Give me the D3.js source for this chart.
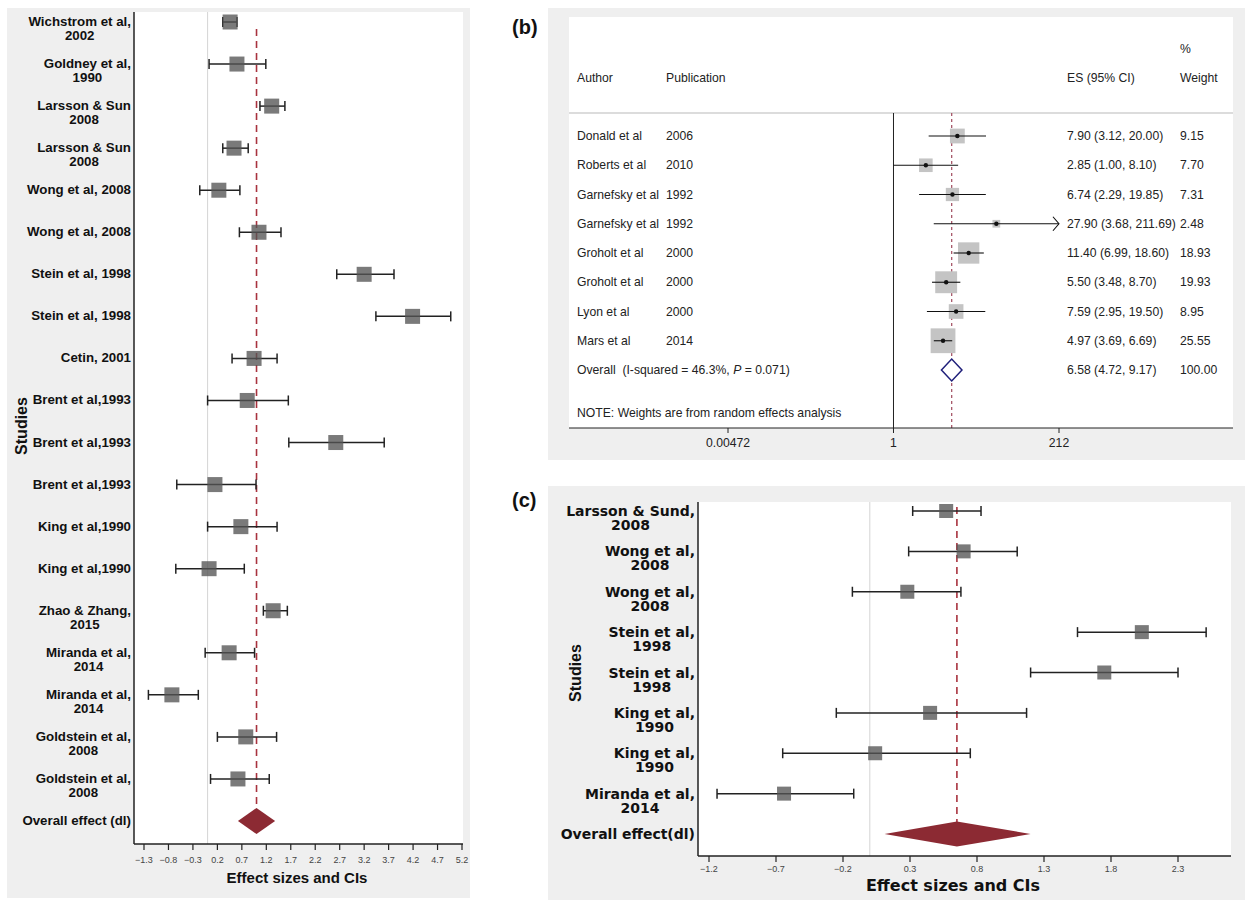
<!DOCTYPE html>
<html><head><meta charset="utf-8">
<script src="https://cdn.jsdelivr.net/npm/d3@7"></script>
<style>body{margin:0;background:#fff}svg{display:block}</style>
</head><body>
<svg id="chart" width="1245" height="900"></svg>
<script>
// ---------- Panel (a) data ----------
const studiesA = ["Wichstrom et al,\n2002","Goldney et al,\n1990","Larsson & Sun\n2008","Larsson & Sun\n2008","Wong et al, 2008","Wong et al, 2008","Stein et al, 1998","Stein et al, 1998","Cetin, 2001","Brent et al,1993","Brent et al,1993","Brent et al,1993","King et al,1990","King et al,1990","Zhao & Zhang,\n2015","Miranda et al,\n2014","Miranda et al,\n2014","Goldstein et al,\n2008","Goldstein et al,\n2008"];
const esA   = [0.46, 0.60, 1.31, 0.54, 0.23, 1.05, 3.20, 4.19, 0.95, 0.81, 2.62, 0.15, 0.68, 0.03, 1.34, 0.44, -0.73, 0.78, 0.62];
const lowA  = [0.31, 0.03, 1.07, 0.31, -0.16, 0.65, 2.64, 3.44, 0.50, 0.00, 1.66, -0.63, 0.00, -0.65, 1.14, -0.05, -1.21, 0.20, 0.06];
const highA = [0.60, 1.19, 1.58, 0.83, 0.66, 1.50, 3.81, 4.97, 1.42, 1.65, 3.61, 0.99, 1.42, 0.75, 1.63, 0.96, -0.19, 1.41, 1.26];
const overallLabelA = "Overall effect (dl)";
const overallA = [1.00, 0.62, 1.38];   // es, low, high
const ticksA = [-1.3,-0.8,-0.3,0.2,0.7,1.2,1.7,2.2,2.7,3.2,3.7,4.2,4.7,5.2];

// ---------- Panel (b) data ----------
const authorsB = ["Donald et al","Roberts et al","Garnefsky et al","Garnefsky et al","Groholt et al","Groholt et al","Lyon et al","Mars et al"];
const yearsB   = ["2006","2010","1992","1992","2000","2000","2000","2014"];
const esB      = [7.90, 2.85, 6.74, 27.90, 11.40, 5.50, 7.59, 4.97];
const lowB     = [3.12, 1.00, 2.29, 3.68, 6.99, 3.48, 2.95, 3.69];
const highB    = [20.00, 8.10, 19.85, 211.69, 18.60, 8.70, 19.50, 6.69];
const weightB  = [9.15, 7.70, 7.31, 2.48, 18.93, 19.93, 8.95, 25.55];
const overallB = [6.58, 4.72, 9.17, 100.00];  // es, low, high, weight
const ticksB   = [0.00472, 1, 212];

// ---------- Panel (c) data ----------
const studiesC = ["Larsson & Sund,\n2008","Wong et al,\n2008","Wong et al,\n2008","Stein et al,\n1998","Stein et al,\n1998","King et al,\n1990","King et al,\n1990","Miranda et al,\n2014"];
const esC   = [0.57, 0.70, 0.28, 2.03, 1.75, 0.45, 0.04, -0.64];
const lowC  = [0.32, 0.29, -0.13, 1.55, 1.20, -0.25, -0.65, -1.14];
const highC = [0.83, 1.10, 0.68, 2.51, 2.30, 1.17, 0.75, -0.12];
const overallLabelC = "Overall effect(dl)";
const overallC = [0.65, 0.11, 1.20];
const ticksC = [-1.2,-0.7,-0.2,0.3,0.8,1.3,1.8,2.3];

const svg = d3.select("#chart");
const SANS = "'Liberation Sans', Arial, Helvetica, sans-serif";
const DEJA = "'DejaVu Sans', sans-serif";
const fmtMinus = d => (d < 0 ? "\u2212" + Math.abs(d) : String(d));

function forest(cfg) {
  const g = svg.append("g");
  g.append("rect").attr("x", cfg.bg[0]).attr("y", cfg.bg[1]).attr("width", cfg.bg[2]).attr("height", cfg.bg[3]).attr("fill", "#efefef");
  const [L, T, R, B] = cfg.plot;
  g.append("rect").attr("x", L).attr("y", T).attr("width", R - L).attr("height", B - T).attr("fill", "#fff");
  const x = d3.scaleLinear().domain([cfg.ticks[0], cfg.ticks[cfg.ticks.length - 1]]).range(cfg.tickPx);
  const n = cfg.labels.length + 1;
  const y = d3.scalePoint().domain(d3.range(n)).range(cfg.rowPx);
  g.append("line").attr("x1", x(0)).attr("x2", x(0)).attr("y1", T).attr("y2", B).attr("stroke", "#d4d4d4").attr("stroke-width", 1);
  g.append("line").attr("x1", x(cfg.overall[0])).attr("x2", x(cfg.overall[0]))
    .attr("y1", cfg.dashTop).attr("y2", y(n - 1)).attr("stroke", "#a8323e").attr("stroke-width", 1.6).attr("stroke-dasharray", "7,5");
  const rows = d3.range(n - 1);
  const cap = cfg.cap;
  rows.forEach(i => {
    const yy = y(i);
    g.append("line").attr("x1", x(cfg.low[i])).attr("x2", x(cfg.high[i])).attr("y1", yy).attr("y2", yy).attr("stroke", "#222").attr("stroke-width", 1.5);
    [cfg.low[i], cfg.high[i]].forEach(v => g.append("line").attr("x1", x(v)).attr("x2", x(v)).attr("y1", yy - cap).attr("y2", yy + cap).attr("stroke", "#222").attr("stroke-width", 1.5));
    g.append("rect").attr("x", x(cfg.es[i]) - cfg.sq / 2).attr("y", yy - cfg.sq / 2).attr("width", cfg.sq).attr("height", cfg.sq)
      .attr("fill", "#555").attr("fill-opacity", 0.78);
  });
  const yo = y(n - 1), dh = cfg.dh, o = cfg.overall;
  g.append("path").attr("d", `M${x(o[1])},${yo}L${x(o[0])},${yo - dh}L${x(o[2])},${yo}L${x(o[0])},${yo + dh}Z`).attr("fill", "#8c2a33");
  g.append("line").attr("x1", L).attr("x2", L).attr("y1", T).attr("y2", B).attr("stroke", "#222").attr("stroke-width", 1.5);
  g.append("line").attr("x1", L).attr("x2", R).attr("y1", B).attr("y2", B).attr("stroke", "#222").attr("stroke-width", 1.5);
  cfg.ticks.forEach(t => {
    g.append("line").attr("x1", x(t)).attr("x2", x(t)).attr("y1", B).attr("y2", B + 6).attr("stroke", "#222").attr("stroke-width", 1.2);
    g.append("text").attr("x", x(t)).attr("y", cfg.tickLabelY).attr("text-anchor", "middle")
      .attr("font-family", SANS).attr("font-size", 9).attr("fill", "#444").text(fmtMinus(t));
  });
  const allLabels = cfg.labels.concat([cfg.overallLabel]);
  allLabels.forEach((lab, i) => {
    const lines = lab.split("\n");
    const t1 = g.append("text").attr("x", cfg.labelX).attr("y", y(i) + cfg.labelDy).attr("text-anchor", "end")
      .attr("font-family", cfg.labelFont).attr("font-weight", "bold").attr("font-size", cfg.labelSize).attr("fill", "#111").text(lines[0]);
    if (lines.length > 1) {
      const w = t1.node().getComputedTextLength();
      g.append("text").attr("x", cfg.labelX - w / 2).attr("y", y(i) + cfg.labelDy + cfg.lineH).attr("text-anchor", "middle")
        .attr("font-family", cfg.labelFont).attr("font-weight", "bold").attr("font-size", cfg.labelSize).attr("fill", "#111").text(lines[1]);
    }
  });
  g.append("text").attr("transform", `translate(${cfg.studiesPos[0]},${cfg.studiesPos[1]}) rotate(-90)`).attr("text-anchor", "middle")
    .attr("font-family", SANS).attr("font-weight", "bold").attr("font-size", 16).attr("fill", "#111").text("Studies");
  g.append("text").attr("x", cfg.titlePos[0]).attr("y", cfg.titlePos[1]).attr("text-anchor", "middle")
    .attr("font-family", cfg.titleFont).attr("font-weight", "bold").attr("font-size", cfg.titleSize).attr("fill", "#111").text("Effect sizes and CIs");
}

// ---------- Panel (a) ----------
forest({
  bg: [7, 8, 463, 890], plot: [134, 12, 463, 844],
  labels: studiesA, es: esA, low: lowA, high: highA, overall: overallA, overallLabel: overallLabelA,
  ticks: ticksA, tickPx: [144, 462], rowPx: [22, 821], dashTop: 29, cap: 5, sq: 15, dh: 13,
  tickLabelY: 863, labelX: 131, labelDy: 4, lineH: 14, labelFont: SANS, labelSize: 13.3,
  studiesPos: [27, 426], titlePos: [297, 883], titleFont: SANS, titleSize: 15
});

// ---------- Panel (c) ----------
forest({
  bg: [548, 486, 697, 414], plot: [698, 502, 1231, 856],
  labels: studiesC, es: esC, low: lowC, high: highC, overall: overallC, overallLabel: overallLabelC,
  ticks: ticksC, tickPx: [709, 1178], rowPx: [511, 834], dashTop: 507, cap: 5, sq: 14, dh: 12.5,
  tickLabelY: 872, labelX: 695, labelDy: 5, lineH: 14, labelFont: DEJA, labelSize: 14,
  studiesPos: [581, 673], titlePos: [953, 891], titleFont: DEJA, titleSize: 16
});
svg.append("text").attr("x", 512).attr("y", 507).attr("font-family", SANS).attr("font-weight", "bold").attr("font-size", 20).attr("fill", "#111").text("(c)");

// ---------- Panel (b) ----------
(function () {
  const g = svg.append("g");
  g.append("rect").attr("x", 548).attr("y", 8).attr("width", 697).attr("height", 452).attr("fill", "#efefef");
  g.append("rect").attr("x", 569).attr("y", 17).attr("width", 664).attr("height", 411).attr("fill", "#fff");
  svg.append("text").attr("x", 512).attr("y", 34).attr("font-family", SANS).attr("font-weight", "bold").attr("font-size", 20).attr("fill", "#111").text("(b)");
  const x = d3.scaleLog().domain([ticksB[0], ticksB[2]]).range([728, 1059]);
  const y = d3.scalePoint().domain(d3.range(9)).range([136, 370]);
  const txt = (xx, yy, s, anchor) => g.append("text").attr("x", xx).attr("y", yy).attr("text-anchor", anchor || "start")
    .attr("font-family", SANS).attr("font-size", 12.2).attr("fill", "#222").text(s);
  txt(1180, 53, "%"); txt(577, 82, "Author"); txt(666, 82, "Publication"); txt(1067, 82, "ES (95% CI)"); txt(1180, 82, "Weight");
  g.append("line").attr("x1", 569).attr("x2", 1233).attr("y1", 113).attr("y2", 113).attr("stroke", "#d0d0d0").attr("stroke-width", 1.5);
  g.append("line").attr("x1", x(1)).attr("x2", x(1)).attr("y1", 113).attr("y2", 428).attr("stroke", "#222").attr("stroke-width", 1);
  g.append("line").attr("x1", x(overallB[0])).attr("x2", x(overallB[0])).attr("y1", 113).attr("y2", 428)
    .attr("stroke", "#a04a5c").attr("stroke-width", 1.2).attr("stroke-dasharray", "3,3");
  authorsB.forEach((a, i) => {
    const yy = y(i), s = 4.9 * Math.sqrt(weightB[i]);
    g.append("rect").attr("x", x(esB[i]) - s / 2).attr("y", yy - s / 2).attr("width", s).attr("height", s).attr("fill", "#c4c4c4");
    g.append("line").attr("x1", x(lowB[i])).attr("x2", x(highB[i])).attr("y1", yy).attr("y2", yy).attr("stroke", "#111").attr("stroke-width", 1.1);
    if (i === 3) {
      const xe = x(highB[i]);
      g.append("path").attr("d", `M${xe - 6},${yy - 7}L${xe},${yy}L${xe - 6},${yy + 7}`).attr("fill", "none").attr("stroke", "#111").attr("stroke-width", 1.1);
    }
    g.append("circle").attr("cx", x(esB[i])).attr("cy", yy).attr("r", 2.2).attr("fill", "#111");
    txt(577, yy + 4, a); txt(666, yy + 4, yearsB[i]);
    txt(1067, yy + 4, `${esB[i].toFixed(2)} (${lowB[i].toFixed(2)}, ${highB[i].toFixed(2)})`);
    txt(1180, yy + 4, weightB[i].toFixed(2));
  });
  const yo = y(8), o = overallB;
  g.append("path").attr("d", `M${x(o[1])},${yo}L${x(o[0])},${yo - 11}L${x(o[2])},${yo}L${x(o[0])},${yo + 11}Z`)
    .attr("fill", "#fff").attr("stroke", "#1f1f7a").attr("stroke-width", 1.5);
  const ov = txt(577, yo + 4, "Overall \u00a0(I-squared = 46.3%, ");
  ov.append("tspan").attr("font-style", "italic").text("P");
  ov.append("tspan").text(" = 0.071)");
  txt(1067, yo + 4, `${o[0].toFixed(2)} (${o[1].toFixed(2)}, ${o[2].toFixed(2)})`);
  txt(1180, yo + 4, o[3].toFixed(2));
  txt(577, 417, "NOTE: Weights are from random effects analysis");
  g.append("line").attr("x1", 569).attr("x2", 1233).attr("y1", 428).attr("y2", 428).attr("stroke", "#222").attr("stroke-width", 1);
  ticksB.forEach(t => {
    g.append("line").attr("x1", x(t)).attr("x2", x(t)).attr("y1", 428).attr("y2", 433).attr("stroke", "#222");
    txt(x(t), 447, String(t), "middle");
  });
})();
</script>
</body></html>
